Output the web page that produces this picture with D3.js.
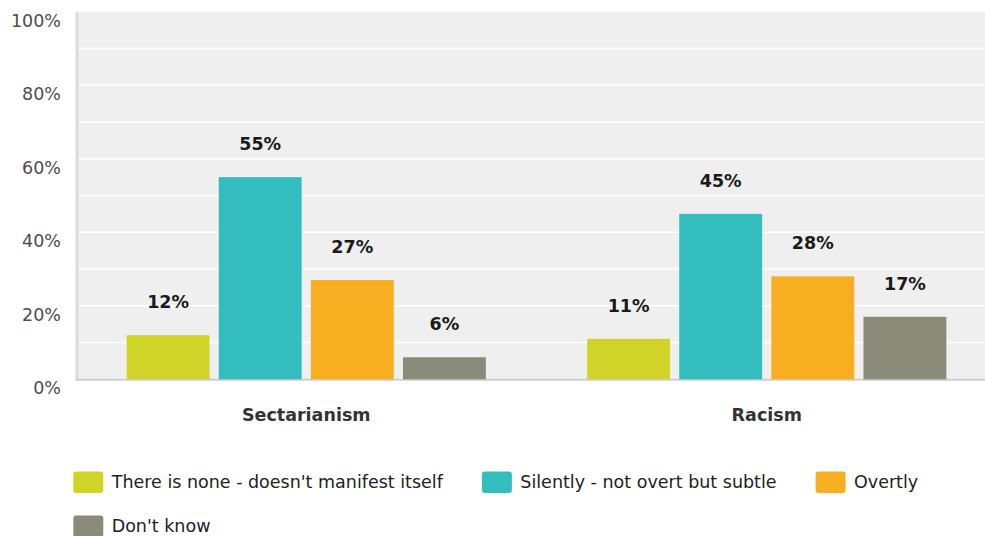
<!DOCTYPE html>
<html>
<head>
<meta charset="utf-8">
<script src="https://cdn.jsdelivr.net/npm/d3@7"></script>
<style>
  html, body { margin: 0; padding: 0; background: #ffffff; }
  svg { display: block; }
  text { font-family: "DejaVu Sans", Verdana, sans-serif; }
</style>
</head>
<body>
<div id="chart"></div>
<script>
// Survey answers: how sectarianism and racism show up
const categories = ["Sectarianism", "Racism"];
const seriesNames = [
  "There is none - doesn't manifest itself",
  "Silently - not overt but subtle",
  "Overtly",
  "Don't know"
];
const noneValues     = [12, 11];
const silentlyValues = [55, 45];
const overtlyValues  = [27, 28];
const dontKnowValues = [6, 17];
const yTicks = [0, 20, 40, 60, 80, 100];
const yGrid = [10, 20, 30, 40, 50, 60, 70, 80, 90];
const colors = ["#d0d428", "#33bdbf", "#f7ae21", "#8b8b7a"];

const seriesValues = [noneValues, silentlyValues, overtlyValues, dontKnowValues];
const rows = categories.map((c, i) => ({
  category: c,
  values: seriesNames.map((s, j) => ({ series: s, value: seriesValues[j][i], color: colors[j] }))
}));

const W = 985, H = 536;
const plotLeft = 77, plotRight = 985, plotTop = 11.7, plotBottom = 379.3;

const svg = d3.select("#chart").append("svg")
  .attr("width", W).attr("height", H);

const y = d3.scaleLinear().domain([0, 100]).range([plotBottom, plotTop]);
const x0 = d3.scaleBand().domain(categories).range([76, 997])
  .paddingInner(0.22).paddingOuter(0.11);
const x1 = d3.scaleBand().domain(seriesNames).range([0, x0.bandwidth()])
  .paddingInner(0.1);

// plot background
svg.append("rect")
  .attr("x", plotLeft).attr("y", plotTop)
  .attr("width", plotRight - plotLeft).attr("height", plotBottom - plotTop)
  .attr("fill", "#efefef");

// horizontal grid
svg.append("g").selectAll("line").data(yGrid).join("line")
  .attr("x1", plotLeft + 2).attr("x2", plotRight)
  .attr("y1", d => y(d)).attr("y2", d => y(d))
  .attr("stroke", "#ffffff").attr("stroke-width", 1.5);

// left axis line
svg.append("line")
  .attr("x1", 77).attr("x2", 77)
  .attr("y1", plotTop).attr("y2", plotBottom + 1)
  .attr("stroke", "#dcdcdc").attr("stroke-width", 3);

// bottom axis line
svg.append("line")
  .attr("x1", 75.5).attr("x2", plotRight)
  .attr("y1", plotBottom + 0.5).attr("y2", plotBottom + 0.5)
  .attr("stroke", "#cfcfcf").attr("stroke-width", 2);

// y tick labels via d3 axis
const yAxis = d3.axisLeft(y).tickValues(yTicks).tickFormat(d => d + "%").tickSize(0).tickPadding(0);
const yAxisG = svg.append("g").attr("transform", "translate(61,0)").call(yAxis);
yAxisG.select(".domain").remove();
yAxisG.selectAll("text")
  .attr("font-family", "DejaVu Sans, Verdana, sans-serif")
  .attr("font-size", 17.5)
  .attr("fill", "#4d4d4d")
  .attr("dy", null)
  .attr("y", 14.5);

// category labels via d3 axis
const xAxis = d3.axisBottom(x0).tickSize(0).tickPadding(0);
const xAxisG = svg.append("g").attr("transform", `translate(0,${plotBottom})`).call(xAxis);
xAxisG.select(".domain").remove();
xAxisG.selectAll("text")
  .attr("font-family", "DejaVu Sans, Verdana, sans-serif")
  .attr("font-size", 17.5)
  .attr("font-weight", "bold")
  .attr("fill", "#333333")
  .attr("dy", null)
  .attr("y", 42);

// bars
const groups = svg.append("g").selectAll("g").data(rows).join("g")
  .attr("transform", d => `translate(${x0(d.category)},0)`);

groups.selectAll("rect").data(d => d.values).join("rect")
  .attr("x", d => x1(d.series))
  .attr("y", d => y(d.value))
  .attr("width", x1.bandwidth())
  .attr("height", d => y(0) - y(d.value))
  .attr("fill", d => d.color);

groups.selectAll("text").data(d => d.values).join("text")
  .attr("x", d => x1(d.series) + x1.bandwidth() / 2)
  .attr("y", d => y(d.value) - 27)
  .attr("text-anchor", "middle")
  .attr("font-size", 17.5)
  .attr("font-weight", "bold")
  .attr("fill", "#1a1a1a")
  .text(d => d.value + "%");

// legend, flowing left to right and wrapping
const legend = svg.append("g");
const legendLeft = 73.3, legendMaxRight = 975, rowGap = 44, itemGap = 39;
let lx = legendLeft, ly = 482;
seriesNames.forEach((name, i) => {
  const item = legend.append("g");
  item.append("rect")
    .attr("x", 0).attr("y", -10.5)
    .attr("width", 30).attr("height", 21.5)
    .attr("rx", 3).attr("ry", 3)
    .attr("fill", colors[i]);
  const t = item.append("text")
    .attr("x", 38.4).attr("y", 6.4)
    .attr("font-size", 17.5)
    .attr("fill", "#222222")
    .text(name);
  const w = 38.4 + t.node().getComputedTextLength();
  if (lx > legendLeft && lx + w > legendMaxRight) {
    lx = legendLeft;
    ly += rowGap;
  }
  item.attr("transform", `translate(${lx},${ly})`);
  lx += w + itemGap;
});
</script>
</body>
</html>
